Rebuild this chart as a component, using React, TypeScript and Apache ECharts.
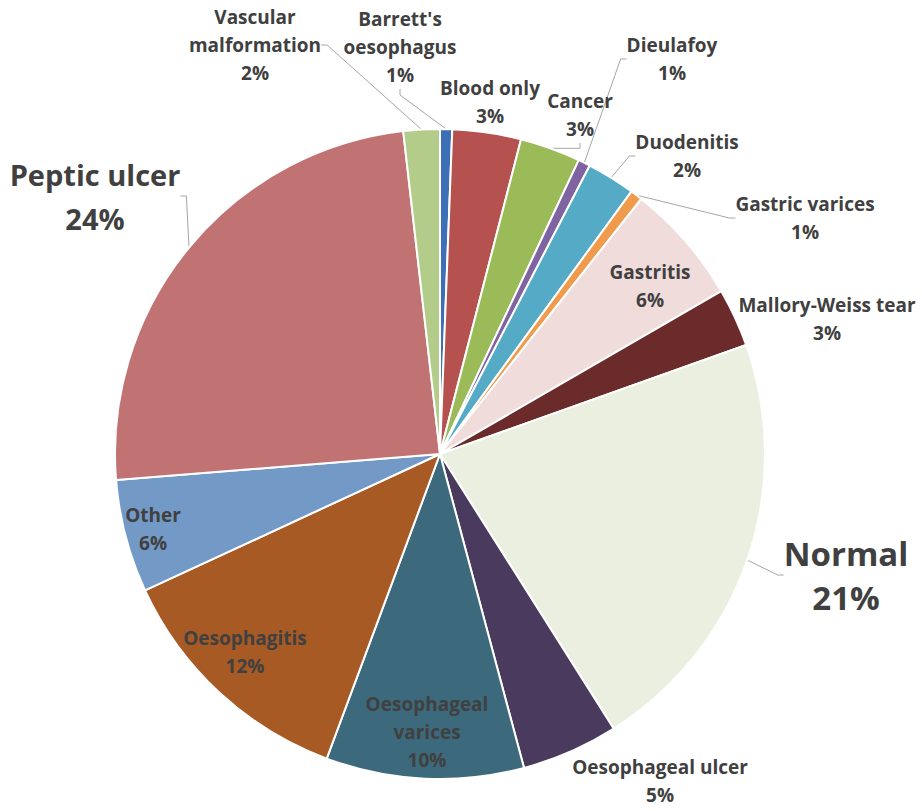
import React, { useEffect, useRef } from "react";
import * as echarts from "echarts";

const categories = [
  "Barrett's oesophagus",
  "Blood only",
  "Cancer",
  "Dieulafoy",
  "Duodenitis",
  "Gastric varices",
  "Gastritis",
  "Mallory-Weiss tear",
  "Normal",
  "Oesophageal ulcer",
  "Oesophageal varices",
  "Oesophagitis",
  "Other",
  "Peptic ulcer",
  "Vascular malformation",
];

const shares = [0.6, 3.4, 3.0, 0.6, 2.4, 0.6, 6.0, 2.9, 21.4, 4.8, 9.8, 12.4, 5.6, 24.4, 1.8];

const sliceColors = [
  "#3d6fb6", "#b5524f", "#9bbb59", "#8064a2", "#55abc6", "#f09a4c", "#f0dcdb", "#6b2b2b",
  "#ebefe0", "#4a3a5e", "#3c6a7c", "#a85a24", "#7399c6", "#c07372", "#b3cc8a",
];

const wrappedNames: Record<string, string> = {
  "Barrett's oesophagus": "Barrett's\noesophagus",
  "Vascular malformation": "Vascular\nmalformation",
  "Oesophageal varices": "Oesophageal\nvarices",
};

// label block centres (layout only)
const labelCentres: number[][] = [
  [400, 47], [490, 102], [580, 115], [672, 59], [687, 156], [805, 218], [650, 286], [827, 319],
  [846, 575], [660, 781], [427, 732], [245, 652], [153, 529], [95, 196], [255, 45],
];
const insideLabels = [6, 10, 11, 12];
const noLeader = [1, 7, 9];
const labelFontSizes = [19, 19, 19, 19, 19, 19, 19, 19, 33, 19, 19, 19, 19, 29, 19];

export default function App() {
  const ref = useRef<HTMLDivElement>(null);
  useEffect(() => {
    if (!ref.current) return;
    const chart = echarts.init(ref.current, undefined, { renderer: "svg" });
    const data = categories.map((name, i) => {
      const fs = labelFontSizes[i];
      const inside = insideLabels.includes(i);
      return {
        name,
        value: shares[i],
        itemStyle: { color: sliceColors[i] },
        label: {
          position: inside ? "inside" : "outside",
          fontSize: fs,
          lineHeight: fs > 25 ? 44 : 28,
        },
        labelLine: { show: !inside && !noLeader.includes(i) },
      };
    });
    chart.setOption({
      animation: false,
      backgroundColor: "#ffffff",
      series: [
        {
          type: "pie",
          center: [440, 454],
          radius: 325,
          startAngle: 90,
          clockwise: true,
          avoidLabelOverlap: false,
          itemStyle: { borderColor: "#ffffff", borderWidth: 2 },
          label: {
            show: true,
            color: "#404040",
            fontFamily: "Open Sans",
            fontWeight: "bold",
            align: "center",
            formatter: (p: any) =>
              (wrappedNames[p.name] || p.name) + "\n" + Math.round(p.percent) + "%",
          },
          labelLine: {
            lineStyle: { color: "#a6a6a6", width: 1 },
            length: 10,
            length2: 6,
            smooth: false,
          },
          labelLayout: (params: any) => {
            const c = labelCentres[params.dataIndex];
            return { x: c[0], y: c[1], align: "center", verticalAlign: "middle" };
          },
          data,
        },
      ],
    });
    return () => chart.dispose();
  }, []);
  return (
    <div
      ref={ref}
      style={{ position: "fixed", left: 0, top: 0, width: 922, height: 811, background: "#fff" }}
    />
  );
}
